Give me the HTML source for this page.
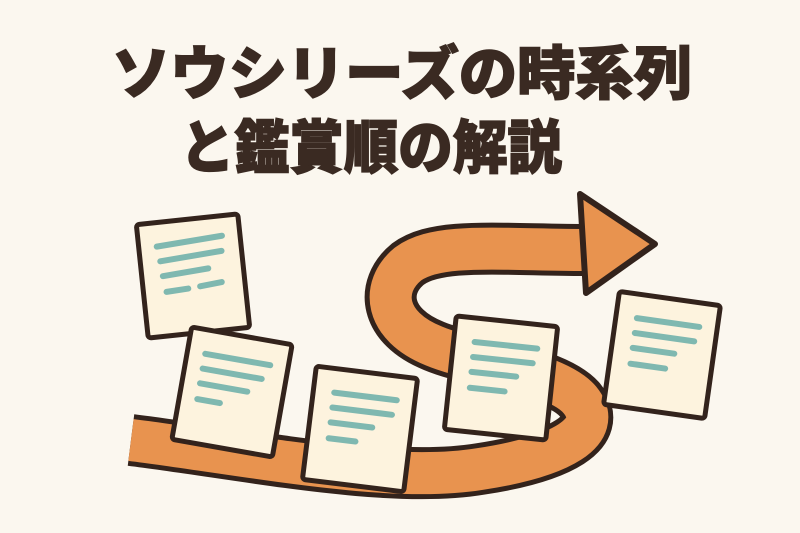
<!DOCTYPE html>
<html><head><meta charset="utf-8"><style>
html,body{margin:0;padding:0;background:#fbf7ef;}
svg{display:block}
</style></head><body>
<svg width="800" height="533" viewBox="0 0 800 533" xmlns="http://www.w3.org/2000/svg">
<rect width="800" height="533" fill="#fbf7ef"/>
<g font-family="'Liberation Sans','Noto Sans CJK JP',sans-serif" font-weight="900" fill="#3a2a22" font-size="58" stroke="#3a2a22" stroke-width="1.5">
<text x="112" y="94" textLength="580" lengthAdjust="spacingAndGlyphs">ソウシリーズの時系列</text>
<text x="180" y="168" textLength="382" lengthAdjust="spacingAndGlyphs">と鑑賞順の解説</text>
</g>
<defs>
<path id="band" d="M 131,440 C 250,455 390,484 480,469 C 560,457 606,432 580,400 C 557,372 472,362 434,346 C 384,326 380,287 408,264 C 438,242 500,250 592,250"/>
</defs>
<use href="#band" fill="none" stroke="#33231c" stroke-width="52" stroke-linejoin="round"/>
<use href="#band" fill="none" stroke="#e8934f" stroke-width="42" stroke-linejoin="round"/>
<polygon points="580,194 655,244 586,293" fill="#e8934f" stroke="#33231c" stroke-width="6" stroke-linejoin="round"/>
<g stroke="#33231c" stroke-width="5" fill="#fdf3de" stroke-linejoin="round">
<g transform="translate(193,276) rotate(-6)">
<rect x="-51" y="-57" width="102" height="114" rx="3"/>
<g stroke="#7fb8b0" stroke-width="6" stroke-linecap="round">
<line x1="-33" y1="-33" x2="33" y2="-37"/><line x1="-31" y1="-18" x2="31" y2="-22"/><line x1="-30" y1="-3" x2="16" y2="-6"/><line x1="-28" y1="13" x2="-6" y2="12"/><line x1="6" y1="11" x2="28" y2="9"/>
</g></g>
<g transform="translate(232,392) rotate(10)">
<rect x="-51" y="-57" width="102" height="114" rx="3"/>
<g stroke="#7fb8b0" stroke-width="6" stroke-linecap="round">
<line x1="-33" y1="-33" x2="33" y2="-33"/><line x1="-33" y1="-18" x2="27" y2="-18"/><line x1="-33" y1="-3" x2="15" y2="-3"/><line x1="-33" y1="13" x2="-10" y2="13"/>
</g></g>
<g transform="translate(360,429) rotate(7)">
<rect x="-51" y="-57" width="102" height="114" rx="3"/>
<g stroke="#7fb8b0" stroke-width="6" stroke-linecap="round">
<line x1="-30" y1="-33" x2="33" y2="-33"/><line x1="-30" y1="-18" x2="30" y2="-18"/><line x1="-30" y1="-3" x2="12" y2="-3"/><line x1="-30" y1="13" x2="-3" y2="13"/>
</g></g>
<g transform="translate(501,378) rotate(6)">
<rect x="-51" y="-57" width="102" height="114" rx="3"/>
<g stroke="#7fb8b0" stroke-width="6" stroke-linecap="round">
<line x1="-30" y1="-33" x2="33" y2="-33"/><line x1="-30" y1="-18" x2="30" y2="-18"/><line x1="-30" y1="-3" x2="15" y2="-3"/><line x1="-30" y1="13" x2="5" y2="13"/>
</g></g>
<g transform="translate(662,355) rotate(8)">
<rect x="-51" y="-57" width="102" height="114" rx="3"/>
<g stroke="#7fb8b0" stroke-width="6" stroke-linecap="round">
<line x1="-30" y1="-33" x2="33" y2="-33"/><line x1="-30" y1="-18" x2="30" y2="-18"/><line x1="-30" y1="-3" x2="12" y2="-3"/><line x1="-30" y1="13" x2="5" y2="13"/>
</g></g>
</g>
</svg>
</body></html>
